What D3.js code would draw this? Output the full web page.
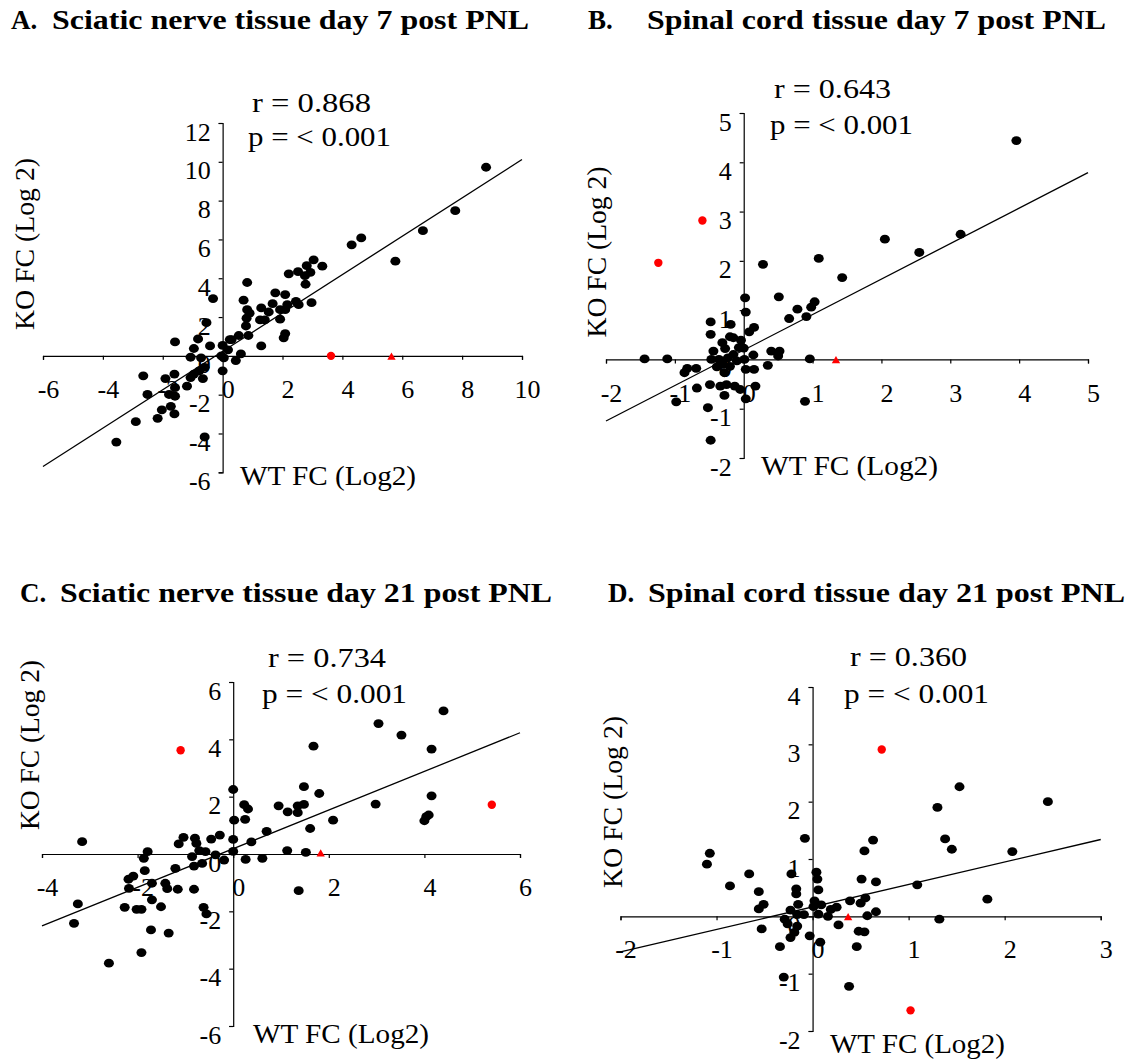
<!DOCTYPE html>
<html>
<head>
<meta charset="utf-8">
<title>KO vs WT fold change</title>
<script src="https://d3js.org/d3.v7.min.js"></script>
<style>
  body { margin: 0; background: #fff; }
  text { font-family: "Liberation Serif", "DejaVu Serif", serif; fill: #000; }
</style>
</head>
<body>
<div id="chart"></div>
<script>

// ---- data ----
var panelLetters = ["A.", "B.", "C.", "D."];
var panelTitles = [
  "Sciatic nerve tissue day 7 post PNL",
  "Spinal cord tissue day 7 post PNL",
  "Sciatic nerve tissue day 21 post PNL",
  "Spinal cord tissue day 21 post PNL"
];
var rValues = ["r = 0.868", "r = 0.643", "r = 0.734", "r = 0.360"];
var pValues = ["p = < 0.001", "p = < 0.001", "p = < 0.001", "p = < 0.001"];
var xAxisTitle = "WT FC (Log2)";
var yAxisTitle = "KO FC (Log 2)";

var xTicksA = [-6, -4, -2, 0, 2, 4, 6, 8, 10];
var yTicksA = [-6, -4, -2, 0, 2, 4, 6, 8, 10, 12];
var xTicksB = [-2, -1, 0, 1, 2, 3, 4, 5];
var yTicksB = [-2, -1, 0, 1, 2, 3, 4, 5];
var xTicksC = [-4, -2, 0, 2, 4, 6];
var yTicksC = [-6, -4, -2, 0, 2, 4, 6];
var xTicksD = [-2, -1, 0, 1, 2, 3];
var yTicksD = [-2, -1, 0, 1, 2, 3, 4];

// [WT FC, KO FC]
var sciatic7 = [
  [8.80, 9.72], [7.77, 7.48], [6.69, 6.45], [5.77, 4.88], [4.31, 5.72], [4.63, 6.08],
  [3.04, 4.95], [3.33, 4.62], [2.81, 4.65], [2.93, 4.30], [2.75, 4.13], [2.21, 4.23],
  [2.52, 4.34], [2.77, 3.69], [2.97, 2.74], [2.54, 2.64], [2.45, 2.81], [2.09, 3.16],
  [1.76, 3.25], [1.67, 2.69], [2.16, 2.64], [2.09, 2.38], [1.92, 2.38], [1.92, 1.89],
  [2.09, 1.15], [2.04, 0.93], [1.54, 2.26], [1.29, 2.47], [1.41, 1.85], [1.25, 1.85],
  [1.29, 0.51], [0.82, 3.78], [0.70, 2.87], [0.82, 2.38], [0.90, 2.20], [0.80, 1.94],
  [0.78, 1.54], [0.86, 1.05], [0.54, 1.05], [0.30, 0.84], [0.24, 0.84], [0.61, 0.10],
  [0.44, -0.24], [0.18, 0.31], [0.00, 0.54], [-0.04, 0.00], [0.04, -0.10], [0.00, -0.77],
  [-0.32, 2.95], [-0.54, 1.71], [-0.82, 0.87], [-0.96, 0.38], [-0.42, 0.51], [-1.07, -0.07],
  [-0.72, -0.10], [-0.60, -0.59], [-0.78, -0.77], [-0.96, -0.94], [-0.66, -1.17], [-1.07, -1.12],
  [-1.19, -1.56], [-1.59, 0.72], [-1.61, -0.94], [-1.91, -1.17], [-1.59, -1.64], [-1.79, -1.99],
  [-1.59, -2.08], [-1.73, -2.60], [-1.61, -2.99], [-2.03, -2.78], [-2.17, -3.22], [-2.65, -1.03],
  [-2.51, -1.99], [-2.90, -3.39], [-3.55, -4.44], [-0.60, -4.18]
];
var sciatic7Red = [[3.62, 0]];
var sciatic7Tri = [[5.64, 0]];
var sciatic7Trend = [[-6, -5.70], [10, 10.12]];

var spinal7 = [
  [3.96, 4.44], [3.15, 2.54], [2.55, 2.17], [2.05, 2.44], [1.43, 1.66], [1.09, 2.05],
  [0.28, 1.93], [0.51, 1.27], [1.03, 1.17], [0.98, 1.06], [0.78, 1.02], [0.91, 0.87],
  [0.66, 0.83], [0.02, 1.25], [0.03, 0.96], [0.15, 0.65], [0.08, 0.56], [-0.04, 0.39],
  [0.00, 0.23], [0.14, 0.09], [0.40, 0.17], [0.52, 0.17], [0.50, 0.07], [0.96, 0.01],
  [0.35, -0.12], [0.15, -0.20], [0.17, -0.54], [0.03, -0.80], [-0.05, -0.61], [-0.13, -0.54],
  [-0.25, -0.51], [-0.34, -0.54], [-0.28, -0.73], [-0.28, -0.27], [-0.39, -0.15], [-0.49, -0.51],
  [-0.52, -0.98], [-0.48, -1.64], [-0.68, -0.58], [-0.98, -0.86], [-0.86, -0.27], [-0.82, -0.18],
  [-0.69, -0.18], [-1.11, 0.01], [-1.44, 0.01], [-0.48, 0.76], [-0.48, 0.51], [-0.19, 0.71],
  [-0.20, 0.46], [-0.15, 0.44], [-0.31, 0.34], [-0.27, 0.22], [-0.44, 0.17], [-0.15, 0.10],
  [-0.23, 0.03], [-0.10, -0.03], [-0.36, 0.00], [-0.47, 0.00], [0.01, 0.00], [0.89, -0.85],
  [0.03, -0.20], [-0.20, -0.14], [-0.07, 0.24], [-0.30, -0.10]
];
var spinal7Red = [[-0.60, 2.82], [-1.24, 1.96]];
var spinal7Tri = [[1.34, 0]];
var spinal7Trend = [[-2, -1.25], [5, 3.79]];

var sciatic21 = [
  [4.40, 4.99], [3.04, 4.55], [3.52, 4.15], [4.15, 3.66], [1.68, 3.76], [4.15, 2.03],
  [2.98, 1.74], [4.04, 1.30], [4.00, 1.16], [4.09, 1.36], [2.09, 1.18], [1.80, 2.11],
  [1.48, 2.35], [1.48, 1.73], [1.35, 1.68], [1.35, 1.44], [1.14, 1.47], [0.95, 1.68],
  [1.61, 0.89], [0.70, 0.79], [0.38, 0.42], [0.00, 2.25], [0.02, 1.18], [0.23, 1.72],
  [0.31, 1.57], [0.25, 1.21], [0.00, 0.51], [0.00, 0.09], [0.26, -0.19], [0.61, -0.15],
  [1.13, 0.12], [1.52, 0.06], [1.37, -1.28], [-0.19, -0.21], [-0.28, 0.66], [-0.46, 0.52],
  [-0.37, -0.03], [-0.58, 0.08], [-0.71, 0.12], [-0.77, 0.37], [-0.80, 0.55], [-0.86, -0.09],
  [-0.82, -0.42], [-0.65, -0.33], [-0.82, -1.23], [-0.62, -1.86], [-0.56, -2.09], [-1.04, 0.58],
  [-1.14, 0.35], [-1.21, -0.50], [-1.16, -1.23], [-1.38, -1.21], [-1.42, -1.02], [-1.35, -2.76],
  [-1.51, -1.84], [-1.70, -1.60], [-1.70, -1.02], [-1.72, -2.65], [-1.79, 0.08], [-1.87, -0.15],
  [-1.85, -0.58], [-2.09, -0.77], [-2.19, -0.88], [-2.18, -1.20], [-1.92, -1.93], [-2.02, -1.93],
  [-2.27, -1.86], [-1.92, -3.44], [-2.60, -3.81], [-3.25, -1.74], [-3.33, -2.42], [-3.16, 0.43]
];
var sciatic21Red = [[-1.10, 3.62], [5.41, 1.72]];
var sciatic21Tri = [[1.83, 0.05]];
var sciatic21Trend = [[-4, -2.51], [6, 4.23]];

var spinal21 = [
  [2.45, 2.00], [1.53, 2.26], [1.30, 1.90], [1.38, 1.35], [1.45, 1.17], [2.08, 1.13],
  [1.82, 0.30], [1.32, -0.05], [1.09, 0.55], [0.63, 1.33], [0.54, 1.14], [0.66, 0.60],
  [0.51, 0.65], [0.39, 0.27], [0.55, 0.32], [0.50, 0.23], [0.66, 0.08], [0.57, 0.01],
  [0.48, -0.26], [0.54, -0.27], [0.46, -0.53], [0.38, -1.22], [0.27, -0.15], [0.25, 0.16],
  [0.19, 0.12], [0.16, 0.00], [0.09, 0.20], [0.06, 0.04], [0.06, 0.46], [0.05, 0.65],
  [0.04, 0.77], [0.02, 0.27], [0.01, 0.17], [0.08, -0.45], [-0.03, -0.34], [-0.08, 1.36],
  [-0.09, 0.03], [-0.16, 0.03], [-0.15, 0.21], [-0.17, 0.48], [-0.17, 0.39], [-0.22, 0.74],
  [-0.23, 0.11], [-0.16, -0.17], [-0.19, -0.28], [-0.23, -0.37], [-0.26, -0.13], [-0.29, -0.05],
  [-0.34, -0.53], [-0.30, -1.06], [-0.51, 0.21], [-0.56, 0.13], [-0.56, 0.43], [-0.53, -0.22],
  [-0.66, 0.74], [-0.86, 0.53], [-1.07, 1.10], [-1.10, 0.91]
];
var spinal21Red = [[0.72, 2.91], [1.02, -1.64]];
var spinal21Tri = [[0.37, 0]];
var spinal21Trend = [[-2, -0.62], [3, 1.34]];

// ---- layout (pixel positions of each panel) ----
var layout = [
  { xr: [43, 522], yr: [472.3, 123], letterX: 11, titleX: 52, titleW: 477, titleY: 29,
    rX: 252, rY: 111.5, rW: 119, pX: 248, pY: 146, pW: 143,
    koX: 34, koY: 244, koW: 172, wtX: 240, wtY: 485, wtW: 176 },
  { xr: [606, 1088], yr: [458, 113], letterX: 588, titleX: 647, titleW: 459, titleY: 29,
    rX: 774, rY: 98, rW: 117, pX: 770, pY: 134, pW: 143,
    koX: 606, koY: 252, koW: 171, wtX: 761, wtY: 475, wtW: 177 },
  { xr: [42, 520], yr: [1026, 682], letterX: 20, titleX: 60, titleW: 492, titleY: 602,
    rX: 268, rY: 666.5, rW: 118, pX: 262, pY: 703, pW: 145,
    koX: 39, koY: 745, koW: 170, wtX: 253, wtY: 1043, wtW: 176 },
  { xr: [620.5, 1100.7], yr: [1031, 687], letterX: 608, titleX: 648, titleW: 477, titleY: 602,
    rX: 850, rY: 665.5, rW: 117, pX: 844, pY: 703, pW: 145,
    koX: 622, koY: 802, koW: 172, wtX: 830, wtY: 1053, wtW: 175 }
];

var panels = [
  { xTicks: xTicksA, yTicks: yTicksA, pts: sciatic7, red: sciatic7Red, tri: sciatic7Tri, trend: sciatic7Trend },
  { xTicks: xTicksB, yTicks: yTicksB, pts: spinal7, red: spinal7Red, tri: spinal7Tri, trend: spinal7Trend },
  { xTicks: xTicksC, yTicks: yTicksC, pts: sciatic21, red: sciatic21Red, tri: sciatic21Tri, trend: sciatic21Trend },
  { xTicks: xTicksD, yTicks: yTicksD, pts: spinal21, red: spinal21Red, tri: spinal21Tri, trend: spinal21Trend }
];

var svg = d3.select("#chart")
  .append("svg")
  .attr("width", 1136)
  .attr("height", 1063);

// plain hyphen minus, no decimals
function fmt(d) { return String(d); }

panels.forEach(function (p, i) {
  var L = layout[i];
  var g = svg.append("g");

  var x = d3.scaleLinear()
    .domain(d3.extent(p.xTicks))
    .range(L.xr);
  var y = d3.scaleLinear()
    .domain(d3.extent(p.yTicks))
    .range(L.yr);

  // titles
  g.append("text")
    .attr("x", L.letterX).attr("y", L.titleY)
    .attr("font-size", 27).attr("font-weight", "bold")
    .text(panelLetters[i]);
  g.append("text")
    .attr("x", L.titleX).attr("y", L.titleY)
    .attr("font-size", 28).attr("font-weight", "bold")
    .attr("textLength", L.titleW).attr("lengthAdjust", "spacingAndGlyphs")
    .text(panelTitles[i]);

  // axes cross at zero
  var xAxis = g.append("g")
    .attr("transform", "translate(0," + y(0) + ")")
    .call(d3.axisBottom(x).tickValues(p.xTicks).tickFormat(fmt)
      .tickSizeInner(4).tickSizeOuter(4));
  xAxis.selectAll("text")
    .attr("y", 33).attr("dy", "0.35em").attr("x", 5)
    .attr("font-size", 26);

  var yAxis = g.append("g")
    .attr("transform", "translate(" + x(0) + ",0)")
    .call(d3.axisLeft(y).tickValues(p.yTicks).tickFormat(fmt)
      .tickSizeInner(4).tickSizeOuter(4));
  yAxis.selectAll("text")
    .attr("x", -12).attr("y", 8).attr("dy", "0.35em")
    .attr("font-size", 26);

  [xAxis, yAxis].forEach(function (a) {
    a.attr("font-family", null).attr("font-size", null);
    a.selectAll("path, line").attr("stroke", "#000").attr("stroke-width", 1.2);
  });

  // axis titles
  g.append("text")
    .attr("transform", "translate(" + L.koX + "," + L.koY + ") rotate(-90)")
    .attr("text-anchor", "middle")
    .attr("font-size", 27)
    .attr("textLength", L.koW).attr("lengthAdjust", "spacingAndGlyphs")
    .text(yAxisTitle);
  g.append("text")
    .attr("x", L.wtX).attr("y", L.wtY)
    .attr("font-size", 27)
    .attr("textLength", L.wtW).attr("lengthAdjust", "spacingAndGlyphs")
    .text(xAxisTitle);

  // stats
  g.append("text")
    .attr("x", L.rX).attr("y", L.rY)
    .attr("font-size", 27)
    .attr("textLength", L.rW).attr("lengthAdjust", "spacingAndGlyphs")
    .text(rValues[i]);
  g.append("text")
    .attr("x", L.pX).attr("y", L.pY)
    .attr("font-size", 27)
    .attr("textLength", L.pW).attr("lengthAdjust", "spacingAndGlyphs")
    .text(pValues[i]);

  // trend line
  g.append("path")
    .datum(p.trend)
    .attr("fill", "none")
    .attr("stroke", "#000")
    .attr("stroke-width", 1.3)
    .attr("d", d3.line()
      .x(function (d) { return x(d[0]); })
      .y(function (d) { return y(d[1]); }));

  // points
  g.selectAll("ellipse.pt")
    .data(p.pts)
    .enter()
    .append("ellipse")
    .attr("class", "pt")
    .attr("cx", function (d) { return x(d[0]); })
    .attr("cy", function (d) { return y(d[1]); })
    .attr("rx", 5)
    .attr("ry", 4.4)
    .attr("fill", "#000");

  g.selectAll("circle.red")
    .data(p.red)
    .enter()
    .append("circle")
    .attr("class", "red")
    .attr("cx", function (d) { return x(d[0]); })
    .attr("cy", function (d) { return y(d[1]); })
    .attr("r", 4.2)
    .attr("fill", "#ff0000");

  g.selectAll("path.tri")
    .data(p.tri)
    .enter()
    .append("path")
    .attr("class", "tri")
    .attr("transform", function (d) { return "translate(" + x(d[0]) + "," + (y(d[1]) + 1.5) + ")"; })
    .attr("d", d3.symbol().type(d3.symbolTriangle).size(30))
    .attr("fill", "#ff0000");
});

</script>
</body>
</html>
